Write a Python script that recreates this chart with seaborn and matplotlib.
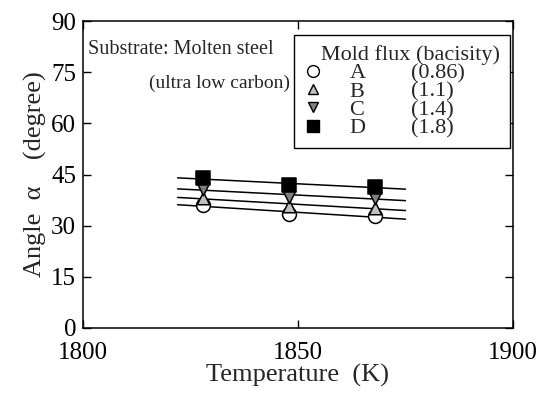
import numpy as np
import pandas as pd
import matplotlib
matplotlib.use("Agg")
import matplotlib.pyplot as plt
from matplotlib.lines import Line2D
import seaborn as sns

# ---- data ----
temperature = [1828, 1848, 1868]
flux_names = ["A", "B", "C", "D"]
basicity = ["(0.86)", "(1.1)", "(1.4)", "(1.8)"]
angle_A = [36.0, 33.4, 32.8]
angle_B = [38.2, 35.7, 35.3]
angle_C = [40.7, 38.5, 38.1]
angle_D = [43.9, 41.9, 41.4]
fit_range = [1822, 1875]

x_ticks = [1800, 1850, 1900]
y_ticks = [0, 15, 30, 45, 60, 75, 90]

series = {"A": angle_A, "B": angle_B, "C": angle_C, "D": angle_D}
rows = []
for name in flux_names:
    for t, a in zip(temperature, series[name]):
        rows.append({"T": t, "angle": a, "flux": name})
df = pd.DataFrame(rows)

sns.set_style("ticks")
plt.rcParams['font.family'] = ['Liberation Serif', 'DejaVu Serif']

fig = plt.figure(figsize=(5.51, 3.98), dpi=100)
ax = fig.add_axes([0.1506, 0.176, 0.7804, 0.771])

markers = {"A": "o", "B": "^", "C": "v", "D": "s"}
faces = {"A": "white", "B": "#c0c0c0", "C": "#808080", "D": "black"}
sizes = {"A": 10, "B": 9, "C": 9, "D": 9.5}

# fitted lines
xs = np.array(fit_range, dtype=float)
for name in flux_names:
    k, b = np.polyfit(temperature, series[name], 1)
    ax.plot(xs, k * xs + b, color="black", lw=1.1, zorder=2)

for name in flux_names:
    sub = df[df["flux"] == name]
    sns.scatterplot(data=sub, x="T", y="angle", marker=markers[name],
                    color=faces[name], edgecolor="black", linewidth=1.1,
                    s=sizes[name] ** 2, ax=ax, legend=False, zorder=3)

ax.set_xlim(1800, 1900)
ax.set_ylim(0, 90)
ax.set_xticks(x_ticks)
ax.set_yticks(y_ticks)
ax.tick_params(direction="in", length=6, width=1, top=True, right=True,
               labelsize=18, colors="black")
ax.tick_params(axis="x", pad=10)
ax.tick_params(axis="y", pad=5)
for sp in ax.spines.values():
    sp.set_linewidth(1.1)
    sp.set_color("black")
    sp.set_visible(True)

ax.set_xlabel("Temperature  (K)", fontsize=19, labelpad=0)
ax.set_ylabel("Angle  \u03b1    (degree)", fontsize=19, labelpad=3)

ax.text(0.012, 0.906, "Substrate: Molten steel", transform=ax.transAxes,
        fontsize=14.5, ha="left", va="center")
ax.text(0.481, 0.798, "(ultra low carbon)", transform=ax.transAxes,
        fontsize=14, ha="right", va="center")

handles = [Line2D([], [], ls="none", marker=markers[n], markersize=sizes[n] * 0.85,
                  markerfacecolor=faces[n], markeredgecolor="black",
                  markeredgewidth=1.0) for n in flux_names]
blank = [Line2D([], [], ls="none") for _ in flux_names]
leg = ax.legend(handles + blank, flux_names + basicity, ncol=2,
                title="   Mold flux (bacisity)", loc="upper right",
                bbox_to_anchor=(0.993, 0.954), fontsize=16, title_fontsize=16,
                frameon=True, fancybox=False, edgecolor="black",
                handlelength=0.8, handletextpad=1.24, columnspacing=0.0,
                labelspacing=-0.1, borderpad=0.45, borderaxespad=0.0)
leg._legend_box.align = "left"
leg.get_frame().set_linewidth(1.0)
leg.get_frame().set_alpha(1)

fig.savefig("out.png", dpi=100)
